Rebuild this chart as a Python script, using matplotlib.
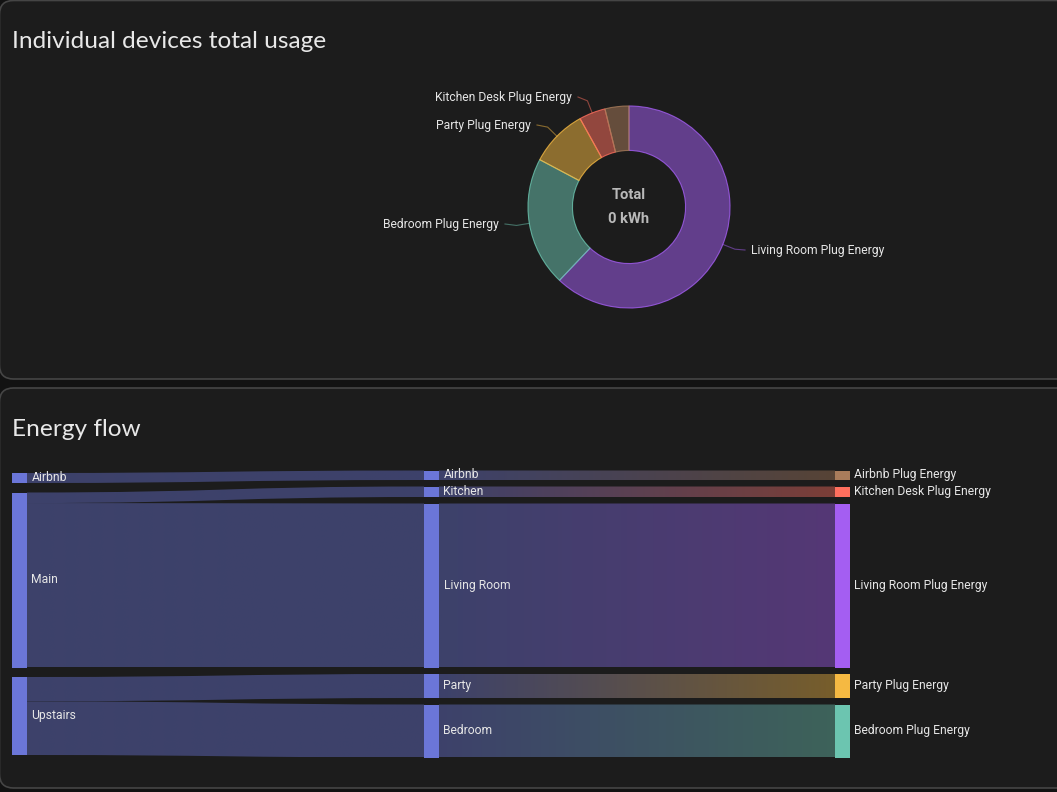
import numpy as np
from matplotlib import pyplot as plt
from matplotlib.colors import to_rgb
from matplotlib.patches import FancyBboxPatch, PathPatch, Rectangle
from matplotlib.path import Path

W, H = 1057, 792

# donut data
device_names = ['Living Room Plug Energy', 'Bedroom Plug Energy', 'Party Plug Energy',
                'Kitchen Desk Plug Energy', 'Airbnb Plug Energy']
device_values = [16.2, 5.4, 2.4, 1.1, 1.0]
device_colors = ['#a45ef2', '#6cc5b0', '#f5b942', '#ff6f5e', '#a97c5b']

# sankey data, one list per column
col1_names = ['Airbnb', 'Main', 'Upstairs']
col1_values = [1.0, 17.5, 7.8]
col2_names = ['Airbnb', 'Kitchen', 'Living Room', 'Party', 'Bedroom']
col2_values = [0.95, 1.05, 16.4, 2.4, 5.3]
col3_names = ['Airbnb Plug Energy', 'Kitchen Desk Plug Energy', 'Living Room Plug Energy',
              'Party Plug Energy', 'Bedroom Plug Energy']
col3_values = [0.95, 1.05, 16.4, 2.4, 5.3]
col3_colors = ['#a97c5b', '#ff6f5e', '#a45ef2', '#f5b942', '#6cc5b0']
# col1 index -> col2 index
first_links = [(0, 0), (1, 1), (1, 2), (2, 3), (2, 4)]

BG = '#1c1c1c'
NODE = '#6b76d8'
TEXT = '#e6e6e6'
FONT = 'Roboto'

fig = plt.figure(figsize=(W / 100, H / 100), dpi=100, facecolor='#121212')


def px_axes(x0, y0, x1, y1):
    return fig.add_axes([x0 / W, 1 - y1 / H, (x1 - x0) / W, (y1 - y0) / H])


# page and the two cards, in pixels
bg = px_axes(0, 0, W, H)
bg.set_xlim(0, W)
bg.set_ylim(H, 0)
bg.axis('off')
for top, bottom in [(0.5, 379), (388, 788)]:
    bg.add_patch(FancyBboxPatch((-0.5, top), W + 40, bottom - top,
                                boxstyle='round,pad=0,rounding_size=14',
                                fc=BG, ec='#454545', lw=1.2))
bg.text(12, 42, 'Individual devices total usage', color='#e8e8e8', fontsize=17.6,
        family='Lato', va='center')
bg.text(12, 430, 'Energy flow', color='#e8e8e8', fontsize=17.6, family='Lato', va='center')

# donut
cx, cy, r = 629, 207, 101
pie_ax = px_axes(cx - r, cy - r, cx + r, cy + r)
wedges, _ = pie_ax.pie(device_values, startangle=90, counterclock=False, radius=1,
                       colors=device_colors, wedgeprops={'width': 0.44})
for w, c in zip(wedges, device_colors):
    w.set_facecolor(to_rgb(c) + (0.52,))
    w.set_edgecolor(to_rgb(c) + (0.8,))
    w.set_linewidth(0.8)
    w.set_clip_on(False)
pie_ax.set_xlim(-1, 1)
pie_ax.set_ylim(-1, 1)
pie_ax.patch.set_alpha(0)

bg.text(cx, 195, 'Total', color='#b9b9b9', fontsize=10.6, weight='bold', family=FONT,
        ha='center', va='center')
bg.text(cx, 219, '0 kWh', color='#b9b9b9', fontsize=10.6, weight='bold', family=FONT,
        ha='center', va='center')

# leader lines and labels, Airbnb has none
label_ends = [745, 505, 537, 578]
label_ys = [250, 224, 125, 97]
for w, name, c, end_x, ly in zip(wedges, device_names, device_colors, label_ends, label_ys):
    a = np.deg2rad((w.theta1 + w.theta2) / 2)
    sx, sy = cx + r * np.cos(a), cy - r * np.sin(a)
    ex, ey = cx + (r + 13) * np.cos(a), cy - (r + 13) * np.sin(a)
    bg.plot([sx, ex, end_x], [sy, ey, ly], color=to_rgb(c) + (0.5,), lw=0.8, zorder=1)
    right = end_x > cx
    bg.text(end_x + (6 if right else -6), ly + 0.5, name, color=TEXT, fontsize=8.7, family=FONT,
            ha='left' if right else 'right', va='center')

# sankey, x in pixels from the first node, y in value units
sk = px_axes(12, 468, 850, 760)
sk.axis('off')
SPAN = 29.2
NODE_W = 15
col_x = [0, 412, 823]
col_gaps = [0.95, 0.65, 0.65]


def layout(values, gap):
    total = sum(values) + gap * (len(values) - 1)
    y = (SPAN - total) / 2
    spans = []
    for v in values:
        spans.append((y, y + v))
        y += v + gap
    return spans


col_vals = [col1_values, col2_values, col3_values]
col_spans = [layout(v, g) for v, g in zip(col_vals, col_gaps)]


def link(x0, x1, top0, bot0, top1, bot1, c0, c1, alpha=0.42):
    xm = (x0 + x1) / 2
    verts = [(x0, top0), (xm, top0), (xm, top1), (x1, top1),
             (x1, bot1), (xm, bot1), (xm, bot0), (x0, bot0), (x0, top0)]
    codes = [Path.MOVETO, Path.CURVE4, Path.CURVE4, Path.CURVE4,
             Path.LINETO, Path.CURVE4, Path.CURVE4, Path.CURVE4, Path.CLOSEPOLY]
    patch = PathPatch(Path(verts, codes), fc='none', ec='none', transform=sk.transData)
    sk.add_patch(patch)
    t = np.linspace(0, 1, 64)[None, :, None]
    grad = np.concatenate([(1 - t) * np.array(to_rgb(c0)) + t * np.array(to_rgb(c1)),
                           np.full(t.shape, alpha)], axis=2)
    im = sk.imshow(grad, extent=(x0, x1, max(bot0, bot1), min(top0, top1)), aspect='auto',
                   interpolation='bilinear', zorder=1)
    im.set_clip_path(patch)


# first column to second, stacking outflow per source
used = [0.0] * len(col1_values)
for src, dst in first_links:
    s0, s1 = col_spans[0][src]
    top1, bot1 = col_spans[1][dst]
    v = col2_values[dst]
    # column sums differ a little, so scale the outflow to the node height
    k = (s1 - s0) / sum(col2_values[d] for s, d in first_links if s == src)
    top0 = s0 + used[src]
    used[src] += v * k
    link(col_x[0] + NODE_W, col_x[1], top0, top0 + v * k, top1, bot1, NODE, NODE)

# second column to third
for (top0, bot0), (top1, bot1), c in zip(col_spans[1], col_spans[2], col3_colors):
    link(col_x[1] + NODE_W, col_x[2], top0, bot0, top1, bot1, NODE, c)

# nodes and labels
col_names = [col1_names, col2_names, col3_names]
col_colors = [[NODE] * 3, [NODE] * 5, col3_colors]
for x, names, spans, colors in zip(col_x, col_names, col_spans, col_colors):
    for name, (y0, y1), c in zip(names, spans, colors):
        sk.add_patch(Rectangle((x, y0), NODE_W, y1 - y0, fc=c, ec='none', zorder=2))
        sk.text(x + NODE_W + 4.5, (y0 + y1) / 2 - 0.05, name, color=TEXT, fontsize=8.7, family=FONT,
                va='center', zorder=3)

sk.set_xlim(0, 838)
sk.set_ylim(SPAN, 0)

fig.savefig('out.png', dpi=100, facecolor=fig.get_facecolor())
